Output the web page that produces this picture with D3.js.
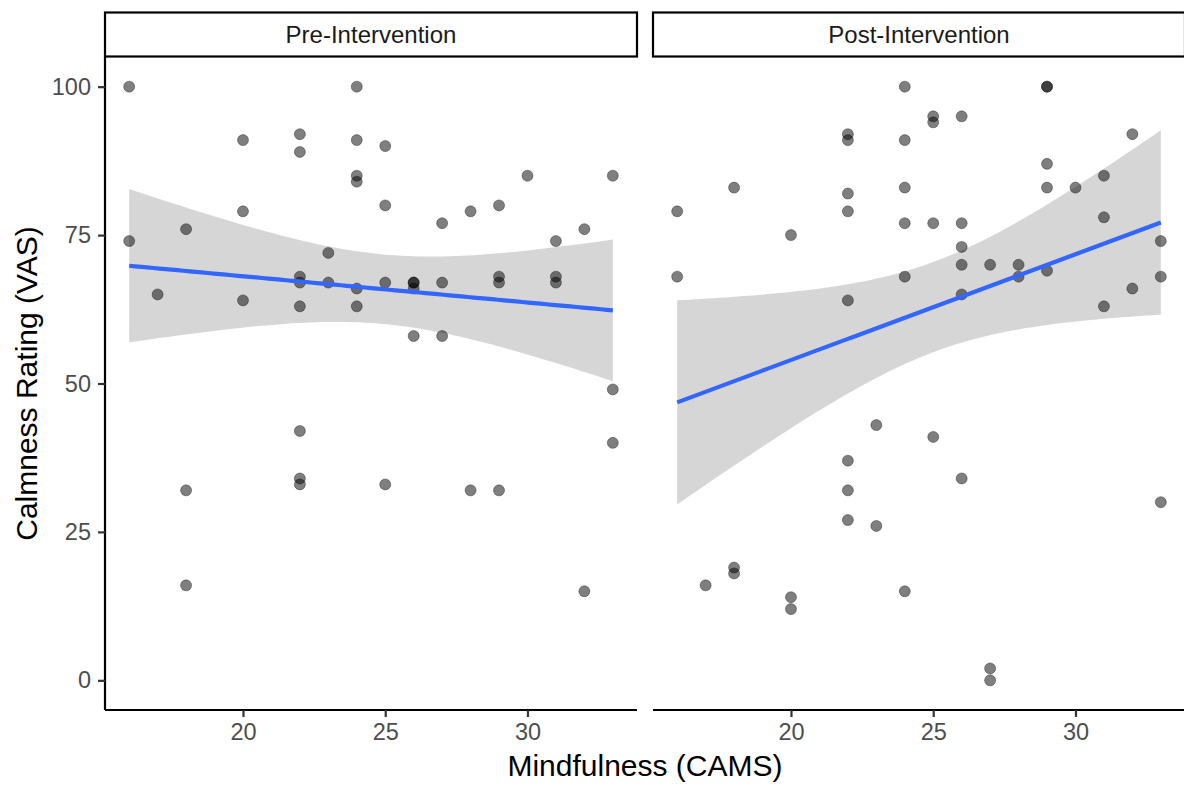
<!DOCTYPE html>
<html>
<head>
<meta charset="utf-8">
<script src="https://cdn.jsdelivr.net/npm/d3@7"></script>
<style>
  body { margin: 0; background: #fff; }
  svg { display: block; font-family: "Liberation Sans", Arial, sans-serif; }
</style>
</head>
<body>
<div id="chart"></div>
<script>
// facet labels
var panels = ["Pre-Intervention", "Post-Intervention"];

// Pre-Intervention: mindfulness (CAMS) and calmness (VAS)
var preX = [16,16, 17, 18,18,18, 20,20,20, 22,22,22,22,22,22,22,22, 23,23,
            24,24,24,24,24,24, 25,25,25,25, 26,26,26,26, 27,27,27, 28,28,
            29,29,29,29, 30, 31,31,31, 32,32, 33,33,33];
var preY = [100,74, 65, 76,32,16, 91,79,64, 92,89,68,67,63,42,34,33, 72,67,
            100,91,85,84,66,63, 90,80,67,33, 67,67,66,58, 77,67,58, 79,32,
            80,68,67,32, 85, 74,68,67, 76,15, 85,49,40];

// Post-Intervention
var postX = [16,16, 17, 18,18,18, 20,20,20, 22,22,22,22,22,22,22,22, 23,23,
             24,24,24,24,24,24, 25,25,25,25, 26,26,26,26,26,26, 27,27,27, 28,28,
             29,29,29,29,29, 30, 31,31,31, 32,32, 33,33,33];
var postY = [79,68, 16, 83,19,18, 75,14,12, 92,91,82,79,64,37,32,27, 43,26,
             100,91,83,77,68,15, 95,94,77,41, 95,77,73,70,65,34, 70,2,0, 70,68,
             100,100,87,83,69, 83, 85,78,63, 92,66, 74,68,30];

var xTicks = [20, 25, 30];
var yTicks = [0, 25, 50, 75, 100];

var series = [
  { name: panels[0], xs: preX, ys: preY, t: 2.0096 },
  { name: panels[1], xs: postX, ys: postY, t: 2.0057 }
];

var width = 1184, height = 788;
var panelW = 532, gap = 16;
var plotTop = 57, plotBottom = 710, plotLeft = 105;
var stripH = 45;

var svg = d3.select("#chart").append("svg")
  .attr("width", width)
  .attr("height", height);

var y = d3.scaleLinear().domain([-5, 105]).range([plotBottom, plotTop]);

// linear model with 95% confidence band
function fitLm(xs, ys, tCrit) {
  var n = xs.length;
  var mx = d3.mean(xs), my = d3.mean(ys);
  var sxx = 0, sxy = 0;
  for (var i = 0; i < n; i++) {
    sxx += (xs[i] - mx) * (xs[i] - mx);
    sxy += (xs[i] - mx) * (ys[i] - my);
  }
  var b = sxy / sxx, a = my - b * mx;
  var sse = 0;
  for (var j = 0; j < n; j++) {
    var r = ys[j] - (a + b * xs[j]);
    sse += r * r;
  }
  var s = Math.sqrt(sse / (n - 2));
  var x0 = d3.min(xs), x1 = d3.max(xs);
  var pts = [];
  for (var k = 0; k <= 80; k++) {
    var xv = x0 + (x1 - x0) * k / 80;
    var fit = a + b * xv;
    var se = s * Math.sqrt(1 / n + (xv - mx) * (xv - mx) / sxx);
    pts.push({ x: xv, y: fit, lo: fit - tCrit * se, hi: fit + tCrit * se });
  }
  return pts;
}

series.forEach(function(d, i) {
  var x0 = plotLeft + i * (panelW + gap);
  var x = d3.scaleLinear().domain([15.15, 33.85]).range([x0, x0 + panelW]);

  var g = svg.append("g");

  // strip
  g.append("rect")
    .attr("x", x0)
    .attr("y", plotTop - stripH + 0.5)
    .attr("width", panelW)
    .attr("height", stripH - 1)
    .attr("fill", "white")
    .attr("stroke", "black")
    .attr("stroke-width", 2.2);
  g.append("text")
    .attr("x", x0 + panelW / 2)
    .attr("y", 43)
    .attr("text-anchor", "middle")
    .attr("fill", "#1a1a1a")
    .style("font-size", "24px")
    .text(d.name);

  var fit = fitLm(d.xs, d.ys, d.t);

  g.append("path")
    .datum(fit)
    .attr("fill", "#999999")
    .attr("fill-opacity", 0.4)
    .attr("d", d3.area()
      .x(function(p) { return x(p.x); })
      .y0(function(p) { return y(p.lo); })
      .y1(function(p) { return y(p.hi); }));

  // points
  g.selectAll("circle")
    .data(d.xs.map(function(v, k) { return [v, d.ys[k]]; }))
    .enter().append("circle")
      .attr("cx", function(p) { return x(p[0]); })
      .attr("cy", function(p) { return y(p[1]); })
      .attr("r", 5.5)
      .attr("fill", "black")
      .attr("fill-opacity", 0.5)
      .attr("stroke", "black")
      .attr("stroke-opacity", 0.35)
      .attr("stroke-width", 1);

  g.append("path")
    .datum(fit)
    .attr("fill", "none")
    .attr("stroke", "#3366FF")
    .attr("stroke-width", 4.2)
    .attr("d", d3.line()
      .x(function(p) { return x(p.x); })
      .y(function(p) { return y(p.y); }));

  // x axis
  var xAxis = g.append("g")
    .attr("transform", "translate(0," + plotBottom + ")")
    .call(d3.axisBottom(x).tickValues(xTicks).tickSize(7).tickPadding(6));
  xAxis.select(".domain").attr("stroke", "black").attr("stroke-width", 2.2)
    .attr("d", "M" + x0 + ",0H" + (x0 + panelW));
  xAxis.selectAll(".tick line").attr("stroke", "#333333").attr("stroke-width", 2.2);
  xAxis.selectAll(".tick text").attr("fill", "#4d4d4d")
    .style("font-size", "23.5px").style("font-family", "Liberation Sans, Arial, sans-serif");

  if (i === 0) {
    var yAxis = g.append("g")
      .attr("transform", "translate(" + x0 + ",0)")
      .call(d3.axisLeft(y).tickValues(yTicks).tickSize(7).tickPadding(7));
    yAxis.select(".domain").attr("stroke", "black").attr("stroke-width", 2.2)
      .attr("d", "M0," + plotTop + "V" + plotBottom);
    yAxis.selectAll(".tick line").attr("stroke", "#333333").attr("stroke-width", 2.2);
    yAxis.selectAll(".tick text").attr("fill", "#4d4d4d")
      .style("font-size", "23.5px").style("font-family", "Liberation Sans, Arial, sans-serif");
  }
});

// axis titles
svg.append("text")
  .attr("x", plotLeft + panelW + gap / 2)
  .attr("y", 776)
  .attr("text-anchor", "middle")
  .attr("fill", "black")
  .style("font-size", "30px")
  .text("Mindfulness (CAMS)");

svg.append("text")
  .attr("transform", "translate(37," + ((plotTop + plotBottom) / 2) + ") rotate(-90)")
  .attr("text-anchor", "middle")
  .attr("fill", "black")
  .style("font-size", "30px")
  .text("Calmness Rating (VAS)");
</script>
</body>
</html>
